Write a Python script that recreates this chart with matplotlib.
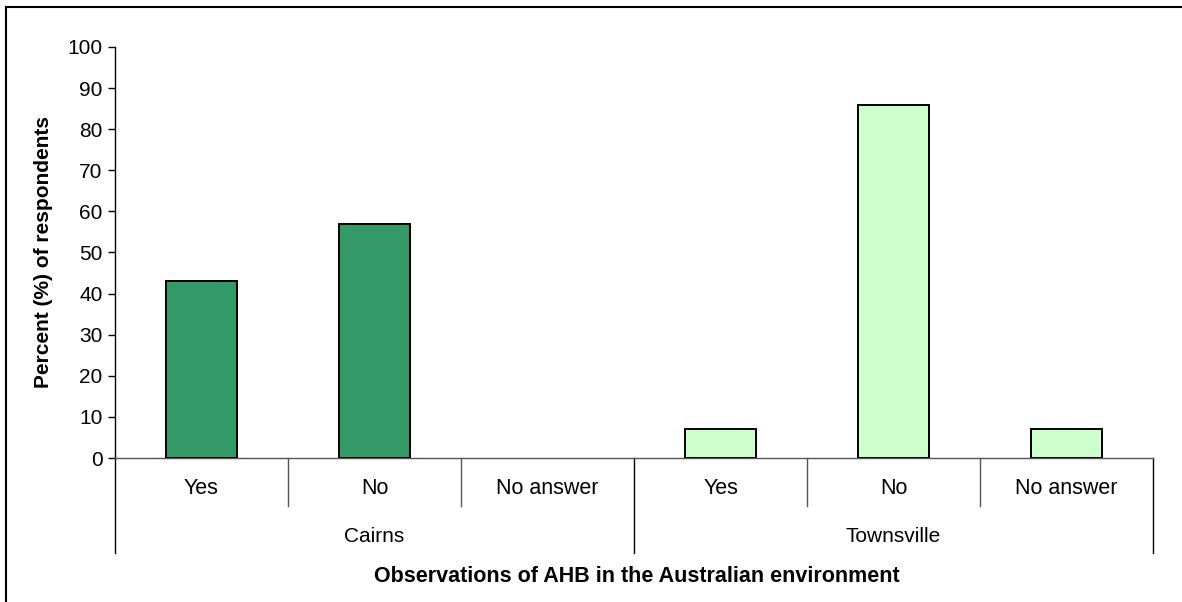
import matplotlib.pyplot as plt
from matplotlib.lines import Line2D
import numpy as np

plt.rcParams['font.family'] = ['Liberation Sans', 'DejaVu Sans']

groups = ['Cairns', 'Townsville']
answers = ['Yes', 'No', 'No answer']
cairns = [43, 57, 0]
townsville = [7, 86, 7]
colors = ['#339966', '#CCFFCC']

fig = plt.figure(figsize=(11.82, 6.02), dpi=100)
ax = fig.add_axes([115 / 1182, 1 - 458 / 602, (1153 - 115) / 1182, (458 - 47) / 602])

n = len(answers)
for gi, vals in enumerate([cairns, townsville]):
    x = np.arange(n) + gi * n + 0.5
    lw = [1.4 if v > 0 else 0 for v in vals]
    ax.bar(x, vals, width=0.41, color=colors[gi], edgecolor='black', linewidth=lw, zorder=3)

ax.set_xlim(0, 2 * n)
ax.set_ylim(0, 100)
ax.set_yticks(np.arange(0, 101, 10))
ax.tick_params(axis='y', labelsize=15, length=5, width=1, direction='out', pad=4)
ax.set_xticks([])
for s in ['top', 'right']:
    ax.spines[s].set_visible(False)
ax.spines['left'].set_linewidth(1)
ax.spines['bottom'].set_color('#555555')
ax.spines['bottom'].set_linewidth(1)

ax.set_ylabel('Percent (%) of respondents', fontsize=15, fontweight='bold', labelpad=10)

# category labels and separators below the axis
trans = ax.get_xaxis_transform()
for gi, g in enumerate(groups):
    for ai, a in enumerate(answers):
        ax.text(gi * n + ai + 0.5, -0.075, a, transform=trans, ha='center', va='center', fontsize=15.5)
    ax.text(gi * n + n / 2, -0.19, g, transform=trans, ha='center', va='center', fontsize=15)
for i in range(2 * n + 1):
    if i % n == 0:
        ax.plot([i, i], [0, -0.23], transform=trans, color='black', lw=1, clip_on=False)
    else:
        ax.plot([i, i], [0, -0.117], transform=trans, color='#555555', lw=1, clip_on=False)

fig.text(637 / 1182, 1 - 577 / 602, 'Observations of AHB in the Australian environment',
         ha='center', va='center', fontsize=15.5, fontweight='bold')

# outer chart border
fig.add_artist(Line2D([6 / 1182, 1.0], [1 - 7 / 602, 1 - 7 / 602], color='black', lw=1.5))
fig.add_artist(Line2D([6 / 1182, 6 / 1182], [0, 1 - 7 / 602], color='black', lw=1.5))

fig.savefig('out.png', dpi=100)
